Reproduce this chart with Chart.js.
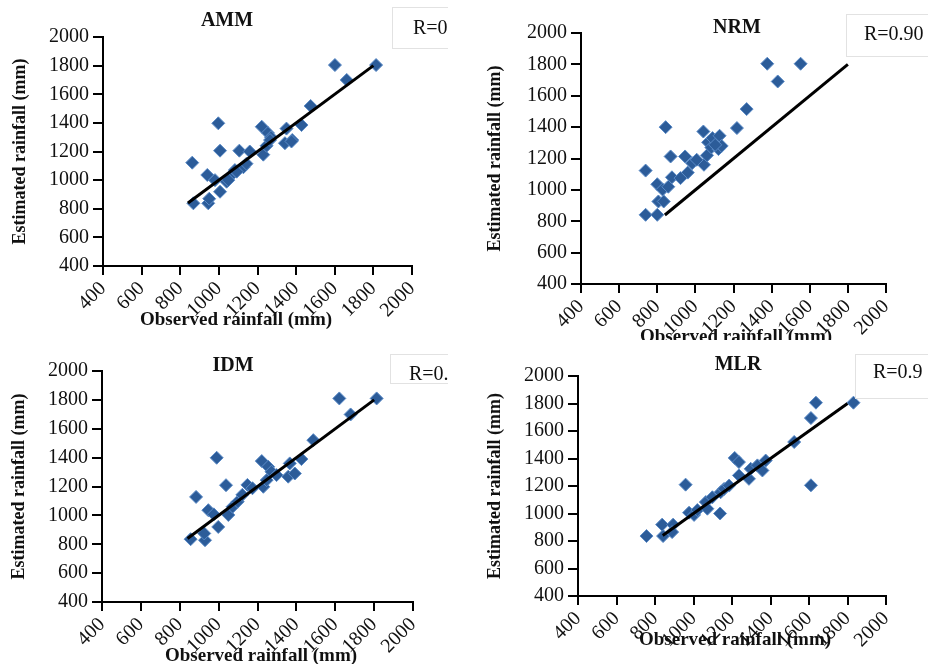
<!DOCTYPE html>
<html>
<head>
<meta charset="utf-8">
<script src="https://cdn.jsdelivr.net/npm/chart.js@4.4.1/dist/chart.umd.min.js"></script>
<style>
  html, body { margin: 0; padding: 0; background: #fff; }
  #wrap { position: relative; width: 928px; height: 664px; background: #fff; overflow: hidden; }
  .panel { position: absolute; overflow: hidden; background: #fff; }
  .panel canvas { position: absolute; left: 0; top: 0; }
  .txt { position: absolute; white-space: nowrap; transform: translate(-50%, -50%);
         font-family: 'Liberation Serif', 'Times New Roman', serif; color: #111; line-height: 1; }
  .ttl { font-weight: bold; font-size: 20px; }
  .xt { font-weight: bold; font-size: 19px; }
  .rbox { position: absolute; border: 1px solid #e2e2e2; background: #fff; width: 200px; }
  .rtxt { position: absolute; white-space: nowrap; transform: translateY(-50%);
          font-family: 'Liberation Serif', 'Times New Roman', serif; font-size: 20px; color: #111; line-height: 1; }
</style>
</head>
<body>
<div id="wrap"></div>
<script>
// ---------------- data ----------------
const panelTitles = ['AMM', 'NRM', 'IDM', 'MLR'];
const rLabels = ['R=0', 'R=0.90', 'R=0.', 'R=0.9'];
const xAxisTitle = 'Observed rainfall (mm)';
const yAxisTitle = 'Estimated rainfall (mm)';
const tickValues = [400, 600, 800, 1000, 1200, 1400, 1600, 1800, 2000];

const lineObs = [840, 1800];
const lineEst = [840, 1800];

const ammObs = [862, 997, 1006, 940, 868, 945, 950, 1006, 980, 1040, 1057, 1083, 1106, 1127, 1143, 1160, 1222, 1230, 1247, 1254, 1270, 1342, 1350, 1380, 1428, 1475, 1601, 1662, 1814, 1049, 1092, 1265, 1376];
const ammEst = [1122, 1397, 1206, 1036, 838, 838, 870, 919, 1000, 989, 1025, 1070, 1206, 1090, 1115, 1200, 1373, 1178, 1240, 1330, 1300, 1258, 1360, 1280, 1385, 1518, 1804, 1700, 1804, 1000, 1059, 1280, 1270];

const nrmObs = [739, 844, 870, 800, 739, 800, 806, 834, 828, 858, 877, 946, 960, 983, 1042, 1045, 1061, 1067, 1084, 1090, 1121, 1127, 1138, 1218, 1269, 1377, 1432, 1552, 922, 1007, 1104];
const nrmEst = [1123, 1400, 1213, 1036, 841, 841, 926, 926, 1002, 1020, 1080, 1213, 1110, 1170, 1372, 1160, 1220, 1303, 1270, 1330, 1260, 1345, 1280, 1394, 1515, 1804, 1691, 1804, 1075, 1192, 1287];

const idmObs = [884, 990, 1038, 947, 856, 930, 926, 998, 975, 1050, 1072, 1098, 1122, 1148, 1174, 1222, 1230, 1247, 1255, 1272, 1298, 1358, 1366, 1392, 1426, 1487, 1621, 1679, 1813];
const idmEst = [1128, 1399, 1209, 1036, 835, 828, 875, 920, 1007, 1003, 1060, 1095, 1142, 1211, 1188, 1376, 1198, 1244, 1337, 1302, 1279, 1268, 1360, 1290, 1390, 1521, 1810, 1699, 1810];

const mlrObs = [756, 842, 837, 894, 889, 959, 977, 1003, 1020, 1064, 1072, 1098, 1138, 1141, 1159, 1185, 1214, 1236, 1236, 1288, 1297, 1332, 1358, 1375, 1523, 1610, 1636, 1610, 1831];
const mlrEst = [836, 836, 919, 919, 865, 1210, 1006, 990, 1025, 1083, 1035, 1118, 1000, 1155, 1179, 1203, 1404, 1374, 1277, 1252, 1325, 1350, 1313, 1385, 1520, 1694, 1806, 1205, 1806];

const panelObs = [ammObs, nrmObs, idmObs, mlrObs];
const panelEst = [ammEst, nrmEst, idmEst, mlrEst];

// ---------------- layout ----------------
const layouts = [
  { left: 0,   top: 0,   w: 448, h: 332, area: [103, 37, 412, 266], yPad: 10, title: [227, 19], xTitle: [236, 318], rBox: [392, 7, 40],  rText: [413, 27] },
  { left: 448, top: 0,   w: 480, h: 340, area: [133, 33, 438, 284], yPad: 37, title: [289, 26], xTitle: [288, 335], rBox: [398, 14, 41], rText: [416, 33] },
  { left: 0,   top: 332, w: 448, h: 332, area: [102, 39, 413, 270], yPad: 9,  title: [233, 32], xTitle: [261, 322], rBox: [390, 22, 28], rText: [409, 41] },
  { left: 448, top: 340, w: 480, h: 324, area: [130, 36, 438, 256], yPad: 37, title: [290, 23], xTitle: [287, 298], rBox: [407, 14, 43], rText: [425, 31] }
];

const FONT = "'Liberation Serif', 'Times New Roman', serif";
const wrap = document.getElementById('wrap');

layouts.forEach((L, i) => {
  const panel = document.createElement('div');
  panel.className = 'panel';
  panel.style.left = L.left + 'px';
  panel.style.top = L.top + 'px';
  panel.style.width = L.w + 'px';
  panel.style.height = L.h + 'px';
  panel.style.zIndex = String(i + 1);
  wrap.appendChild(panel);

  const cv = document.createElement('canvas');
  cv.width = L.w; cv.height = L.h;
  cv.style.width = L.w + 'px'; cv.style.height = L.h + 'px';
  panel.appendChild(cv);

  const t = document.createElement('div');
  t.className = 'txt ttl';
  t.textContent = panelTitles[i];
  t.style.left = L.title[0] + 'px'; t.style.top = L.title[1] + 'px';
  panel.appendChild(t);

  const xt = document.createElement('div');
  xt.className = 'txt xt';
  xt.textContent = xAxisTitle;
  xt.style.left = L.xTitle[0] + 'px'; xt.style.top = L.xTitle[1] + 'px';
  panel.appendChild(xt);

  const rb = document.createElement('div');
  rb.className = 'rbox';
  rb.style.left = L.rBox[0] + 'px'; rb.style.top = L.rBox[1] + 'px'; rb.style.height = L.rBox[2] + 'px';
  panel.appendChild(rb);
  const rt = document.createElement('div');
  rt.className = 'rtxt';
  rt.textContent = rLabels[i];
  rt.style.left = L.rText[0] + 'px'; rt.style.top = L.rText[1] + 'px';
  panel.appendChild(rt);

  const [aL, aT, aR, aB] = L.area;
  const obs = panelObs[i], est = panelEst[i];

  new Chart(cv, {
    type: 'scatter',
    data: {
      datasets: [
        {
          data: lineObs.map((x, k) => ({ x: x, y: lineEst[k] })),
          showLine: true, borderColor: '#000', borderWidth: 3, pointRadius: 0, order: 0
        },
        {
          data: obs.map((x, k) => ({ x: x, y: est[k] })),
          pointStyle: 'rectRot', pointRadius: 6.5,
          backgroundColor: '#2c5c99', borderColor: '#5a8ac6', borderWidth: 1, order: 1
        }
      ]
    },
    options: {
      responsive: false,
      animation: false,
      layout: { padding: { left: 0, top: aT, right: L.w - aR, bottom: 0 } },
      plugins: { legend: { display: false }, tooltip: { enabled: false } },
      scales: {
        x: {
          type: 'linear', min: tickValues[0], max: tickValues[tickValues.length - 1],
          afterBuildTicks: s => { s.ticks = tickValues.map(v => ({ value: v })); },
          afterFit: s => { s.height = L.h - aB; },
          grid: { display: true, drawOnChartArea: false, drawTicks: true, tickLength: 9, color: '#000', lineWidth: 2 },
          border: { display: true, color: '#000', width: 2 },
          ticks: { maxRotation: 45, minRotation: 45, autoSkip: false, padding: 2,
                   font: { family: FONT, size: 20 }, color: '#111', callback: v => String(v) }
        },
        y: {
          type: 'linear', min: tickValues[0], max: tickValues[tickValues.length - 1],
          afterBuildTicks: s => { s.ticks = tickValues.map(v => ({ value: v })); },
          afterFit: s => { s.width = aL; },
          grid: { display: true, drawOnChartArea: false, drawTicks: true, tickLength: 10, color: '#000', lineWidth: 2 },
          border: { display: true, color: '#000', width: 2 },
          ticks: { autoSkip: false, padding: 4, font: { family: FONT, size: 20 }, color: '#111', callback: v => String(v) },
          title: { display: true, text: yAxisTitle, color: '#111',
                   font: { family: FONT, size: 18, weight: 'bold' }, padding: { top: L.yPad, bottom: 0 } }
        }
      }
    }
  });
});
</script>
</body>
</html>
